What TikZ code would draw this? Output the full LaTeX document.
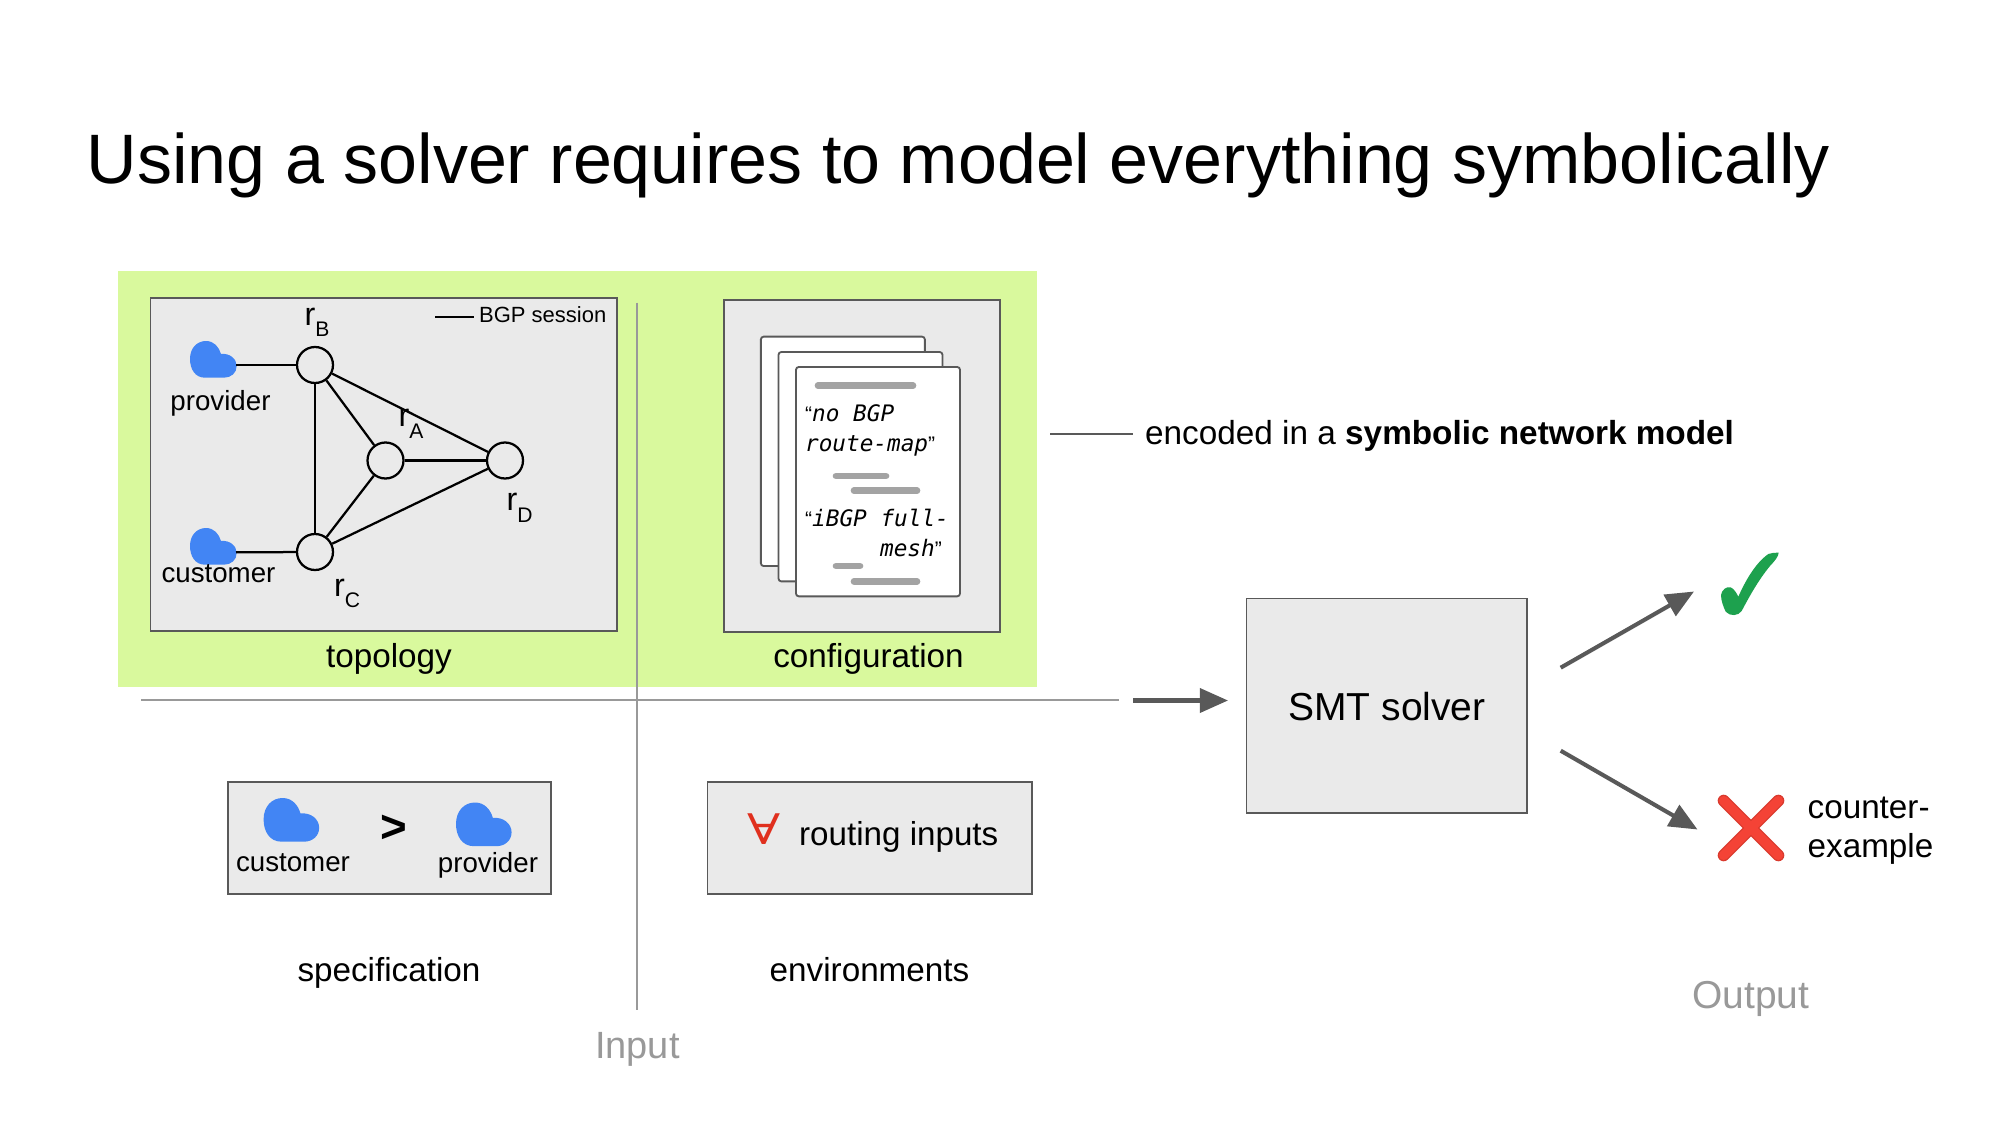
\documentclass[tikz,border=0pt]{standalone}
\usepackage{fontspec}
\setmainfont{Liberation Sans}
\newfontfamily\monof{DejaVu Sans Mono}
\newfontfamily\allf{DejaVu Serif}
\usetikzlibrary{arrows.meta}
\definecolor{lime}{HTML}{D9F99D}
\definecolor{panelgray}{HTML}{EAEAEA}
\definecolor{edgegray}{HTML}{595959}
\definecolor{softgray}{HTML}{999999}
\definecolor{barkgray}{HTML}{A3A3A3}
\definecolor{cloudblue}{HTML}{4285F4}
\definecolor{okgreen}{HTML}{1DA14E}
\definecolor{noreda}{HTML}{D93A2E}
\definecolor{noredb}{HTML}{F44336}
\definecolor{allred}{HTML}{E0301E}
\newcommand\fs[1]{\fontsize{#1pt}{#1pt}\selectfont}
\tikzset{
  panel/.style={draw=edgegray,fill=panelgray,line width=2.4pt,inner sep=0pt},
  sheet/.style={draw=edgegray,fill=white,line width=2.6pt,rounded corners=4pt,inner sep=0pt,minimum width=8.2cm,minimum height=11.47cm},
  router/.style={circle,draw=black,fill=panelgray,line width=3.2pt,inner sep=0pt,minimum size=1.8cm},
  link/.style={draw=black,line width=3.2pt},
  guide/.style={draw=softgray,line width=2.4pt},
  flow/.style={draw=edgegray,line width=5.8pt,-{Triangle[length=40pt,width=34pt]}},
  bar/.style={draw=barkgray,line width=9.5pt,line cap=round},
  lbl/.style={anchor=base,inner sep=0pt,text=black},
  lblw/.style={anchor=base west,inner sep=0pt,text=black},
  code/.style={anchor=base west,inner sep=0pt,font=\monof\itshape\fs{32.3}},
  rname/.style={anchor=base west,inner sep=0pt,font=\fs{46}},
  cloudicon/.pic={\fill[cloudblue] (15,36.7) .. controls (5,36.7) and (0,28) .. (0,18) .. controls (0,7) and (7,0) .. (16,0) .. controls (24,0) and (29,6) .. (31,13) .. controls (40,12) and (46.7,18) .. (46.7,25) .. controls (46.7,32) and (41,36.7) .. (34,36.7) -- cycle;}
}
\newcommand\rsub[1]{r\raisebox{-17pt}{\fs{30}#1}}
\newcommand\qm[1]{{\rmfamily\upshape\fs{30}#1}}
\begin{document}
\begin{tikzpicture}[x=0.05cm,y=-0.05cm]
\useasboundingbox (0,0) rectangle (2000,1125);
\fill[white] (0,0) rectangle (2000,1125);

\node[lblw,font=\fs{99.6}] (title) at (86.7,184) {Using a solver requires to model everything symbolically};

% green background and panels
\node[fill=lime,inner sep=0pt,minimum width=45.95cm,minimum height=20.85cm] (green) at (577.5,479) {};
\node[panel,minimum width=23.32cm,minimum height=16.67cm] (topo) at (383.8,464.35) {};
\node[panel,minimum width=13.8cm,minimum height=16.6cm] (conf) at (862,466) {};
\node[panel,minimum width=16.17cm,minimum height=5.63cm] (spec) at (389.35,838) {};
\node[panel,minimum width=16.22cm,minimum height=5.63cm] (envb) at (869.8,838) {};
\node[panel,minimum width=14.03cm,minimum height=10.72cm] (smt) at (1386.75,705.6) {};
\node[lbl,font=\fs{55.5}] (smtt) at (1387,720.7) {SMT solver};

% guides
\coordinate (vt) at (637,302.5);
\coordinate (vb) at (637,1009.5);
\coordinate (hl) at (141,700);
\coordinate (hr) at (1118.6,700);
\draw[guide] (vt) -- (vb);
\draw[guide] (hl) -- (hr);

% topology
\node[router] (rb) at (315,365) {};
\node[router] (ra) at (385.5,460.5) {};
\node[router] (rd) at (505,460.5) {};
\node[router] (rc) at (315,552) {};
\pic at (190,341) {cloudicon};
\pic at (190,528) {cloudicon};
\coordinate (pcloud) at (236,365);
\coordinate (ccloud) at (236,552.3);
\draw[link] (pcloud) -- (rb);
\draw[link] (ccloud) -- (rc);
\draw[link] (rb) -- (rc);
\draw[link] (rb) -- (ra);
\draw[link] (rb) -- (rd);
\draw[link] (ra) -- (rd);
\draw[link] (rc) -- (ra);
\draw[link] (rc) -- (rd);
\node[lbl,font=\fs{39.4}] (tprov) at (220.5,410) {provider};
\node[lbl,font=\fs{39.4}] (tcust) at (218.5,582.7) {customer};
\node[rname] (lb) at (304.5,325) {\rsub{B}};
\node[rname] (la) at (398.5,426.7) {\rsub{A}};
\node[rname] (ld) at (506.5,510.5) {\rsub{D}};
\node[rname] (lc) at (334,596) {\rsub{C}};
\coordinate (lega) at (435.4,316.7);
\coordinate (legb) at (474,316.7);
\draw[draw=black,line width=2.4pt] (lega) -- (legb);
\node[lblw,font=\fs{31.3}] (legt) at (479,322.5) {BGP session};
\node[lbl,font=\fs{47.3}] (ttopo) at (389,667) {topology};

% configuration
\node[sheet] (s1) at (842.85,451.35) {};
\node[sheet] (s2) at (860.5,466.7) {};
\node[sheet] (s3) at (878,481.65) {};
\draw[bar] (818,385.7) -- (913,385.7);
\draw[bar] (836,476) -- (886,476);
\draw[bar] (854,490.7) -- (917,490.7);
\draw[bar] (836,566) -- (860,566);
\draw[bar] (854,581.3) -- (917,581.3);
\node[code] (c1) at (805,421) {\qm{“}no BGP};
\node[code] (c2) at (805,451) {route-map\qm{”}};
\node[code] (c3) at (805,526.5) {\qm{“}iBGP full-};
\node[code] (c4) at (880,556) {mesh\qm{”}};
\node[lbl,font=\fs{47.3}] (tconf) at (868.5,667.7) {configuration};

% encoded
\coordinate (ea) at (1050,434);
\coordinate (eb) at (1133,434);
\draw[draw=edgegray,line width=2.4pt] (ea) -- (eb);
\node[lblw,font=\fs{47.4}] (tenc) at (1145,444.5) {encoded in a \textbf{symbolic network model}};

% specification
\pic[scale=1.19] at (263.6,798) {cloudicon};
\pic[scale=1.19] at (456,802.5) {cloudicon};
\node[lbl,font=\bfseries\fs{65}] (gt) at (393.5,842) {>};
\node[lbl,font=\fs{39.4}] (scust) at (293,871) {customer};
\node[lbl,font=\fs{39.4}] (sprov) at (488,872.7) {provider};
\node[lbl,font=\fs{47.3}] (tspec) at (389,981) {specification};

% environments
\node[lbl,font=\allf\fs{60},text=allred] (forall) at (764.4,844) {\scalebox{1.3}[1]{∀}};
\node[lblw,font=\fs{47.2}] (trout) at (799,845) {routing inputs};
\node[lbl,font=\fs{47.3}] (tenv) at (869.5,981) {environments};
\node[lbl,font=\fs{54},text=softgray] (tin) at (637.4,1058.7) {Input};

% flows
\coordinate (ia) at (1133,700.5);
\coordinate (ib) at (1228,700.5);
\draw[flow] (ia) -- (ib);
\coordinate (oa) at (1560.7,667.7);
\coordinate (ob) at (1694,591.5);
\coordinate (pa) at (1560.7,750.7);
\coordinate (pb) at (1697.5,829.5);
\draw[flow] (oa) -- (ob);
\draw[flow] (pa) -- (pb);

% check and cross
\begin{scope}[shift={(1520,530)},scale=1/3]
\fill[okgreen] (603,195) .. controls (605,180) and (620,168) .. (632,172) .. controls (642,176) and (650,190) .. (655,200) .. controls (675,155) and (705,100) .. (745,72) .. controls (755,68) and (765,68) .. (776,68) .. controls (775,80) and (765,92) .. (750,108) .. controls (715,150) and (685,205) .. (665,243) .. controls (655,258) and (630,260) .. (617,245) .. controls (610,230) and (603,212) .. (603,195) -- cycle;
\draw[noreda,line width=17pt,line cap=round] (611,812) -- (775,976) (775,812) -- (611,976);
\draw[noredb,line width=13.5pt,line cap=round] (611,812) -- (775,976) (775,812) -- (611,976);
\end{scope}
\node[lblw,font=\fs{47.3}] (tca) at (1807.5,818) {counter-};
\node[lblw,font=\fs{47.3}] (tcb) at (1807.5,857.7) {example};
\node[lbl,font=\fs{55.4},text=softgray] (tout) at (1751,1008) {Output};
\end{tikzpicture}
\end{document}
